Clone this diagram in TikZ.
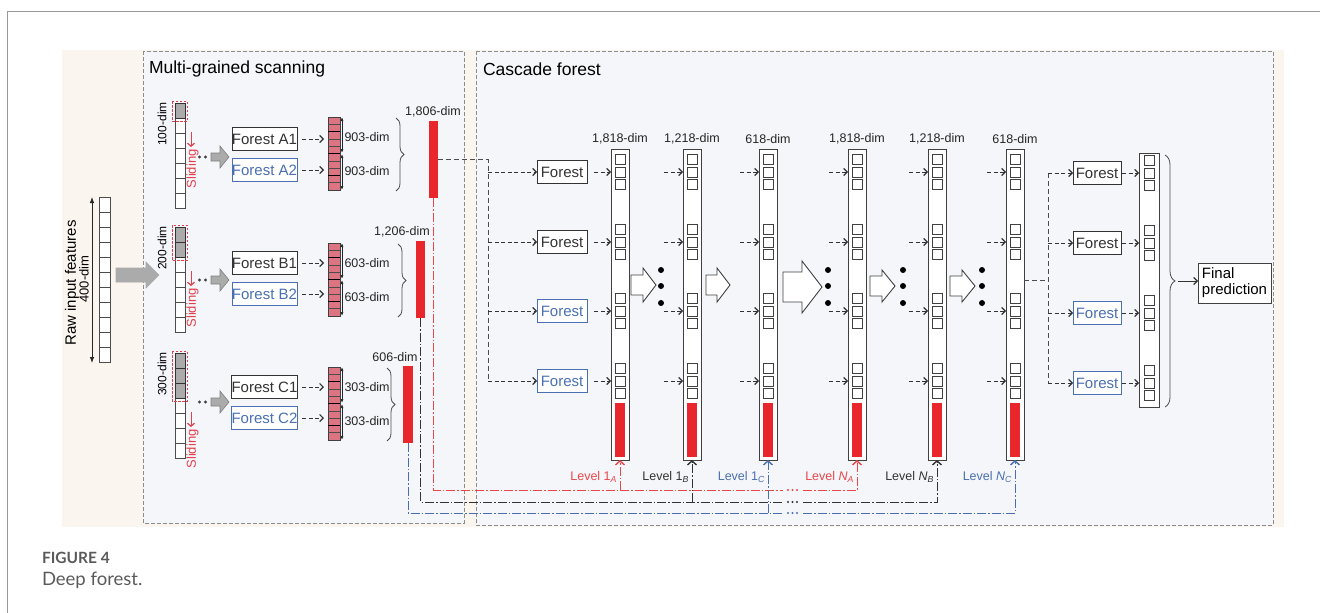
\documentclass[tikz,border=0pt]{standalone}
\usepackage{fontspec}
\setmainfont{Liberation Sans}
\newfontfamily\captionfont{Lato}
\usetikzlibrary{positioning, calc, arrows.meta, decorations.pathreplacing}

\definecolor{barred}{HTML}{E8262B}
\definecolor{cellpink}{HTML}{DC7482}
\definecolor{slidered}{HTML}{E2404C}
\definecolor{forestblue}{HTML}{4A70B2}
\definecolor{blockgray}{HTML}{ABABAB}
\definecolor{panelbg}{HTML}{F4F6F9}
\definecolor{beigebg}{HTML}{FAF5EE}
\definecolor{levelred}{HTML}{E8474C}
\definecolor{levelblue}{HTML}{4A6FB0}
\definecolor{captiongray}{HTML}{5A5A5A}

\tikzset{
  panel/.style={draw=black!45, fill=panelbg, dash pattern=on 4pt off 2pt, line width=0.7pt},
  paneltitle/.style={anchor=west, font=\fontsize{17.5}{18}\selectfont, text=black},
  dimlabel/.style={font=\fontsize{12.5}{13}\selectfont, text=black!85},
  forestbox/.style={draw=#1, text=#1, fill=white, line width=0.9pt, minimum height=23pt, font=\fontsize{15}{15}\selectfont},
  forestbox/.default=black!80,
  rawcell/.style={draw=black!70, fill=white, line width=0.7pt, minimum width=11pt, minimum height=15pt},
  scancell/.style={draw=black!70, fill=white, line width=0.7pt, minimum width=10pt, minimum height=15pt},
  slot/.style={draw=black!75, fill=white, line width=0.7pt, minimum width=10pt, minimum height=10pt},
  vector/.style={draw=black!75, fill=white, line width=0.9pt, minimum width=18pt},
  redbar/.style={fill=barred, minimum width=9.5pt, minimum height=77pt},
  dasharrow/.style={black!80, line width=0.9pt, dash pattern=on 4pt off 2.5pt, -{Straight Barb[length=3.5pt, width=7pt, line width=1.2pt]}},
  dimarrows/.style={black!85, line width=0.7pt, {Latex[length=4pt, width=3pt]}-{Latex[length=4pt, width=3pt]}},
  feedline/.style={black!70, line width=0.8pt, dash pattern=on 5pt off 3pt},
  levelline/.style={#1, line width=0.9pt, dash pattern=on 9pt off 2pt on 1.5pt off 2pt},
  levelarrow/.style={levelline=#1, -{Straight Barb[length=4pt, width=9pt, line width=1.4pt]}},
  levellabel/.style={anchor=east, text=#1, font=\fontsize{12.5}{13}\selectfont},
  hollow/.style={draw=black!75, fill=white, line width=0.9pt, line join=miter},
  grayblock/.style={draw=black!50, fill=blockgray, line width=0.6pt},
  bracestyle/.style={decorate, decoration={brace, amplitude=#1}, black!70, line width=0.8pt},
}

\begin{document}
\begin{tikzpicture}[x=1pt, y=-1pt, every node/.append style={inner sep=0pt, outer sep=0pt}]
\useasboundingbox (0,0) rectangle (1320,613);
% card edges and backgrounds
\draw[black!40, line width=0.8pt] (7,613) -- (7,11) -- (1320,11);
\fill[beigebg] (62,50) rectangle (1284,527);
\draw[panel] (143,51) rectangle (464,523);
\draw[panel] (476,51) rectangle (1273,525);
\node[paneltitle] (mgtitle) at (149,69) {Multi-grained scanning};
\node[paneltitle] (cftitle) at (483,69) {Cascade forest};

% raw input
\foreach \i in {0,...,10}
  \node[rawcell] (raw\i) at (104.5,204.5+15*\i) {};
\draw[black!85, line width=0.8pt, {Latex[length=6pt, width=4.5pt]}-{Latex[length=6pt, width=4.5pt]}] (92,197) -- (92,363);
\node[rotate=90, font=\fontsize{15}{15}\selectfont] (rawname) at (72,283) {Raw input features};
\node[rotate=90, font=\fontsize{13}{13}\selectfont] (rawdim) at (84,279) {400-dim};
\draw[grayblock, draw=blockgray] (116,268) -- (146,268) -- (146,262) -- (159,275) -- (146,288) -- (146,282) -- (116,282) -- cycle;

% scanning rows
\foreach \r/\ct/\ng/\dm/\ay/\fy/\pk/\pd/\bx/\barx/\bt/\bl/\blx in {
    A/103/1/100/157/139/117/903/396/433.5/121/{1,806}/433,
    B/227/2/200/280/263/243/603/398/420.5/241/{1,206}/402,
    C/353/3/300/402/387/367/303/387/408/366/606/395}{
  \foreach \i in {0,...,6}
    \node[scancell] (scan\r\i) at (180,\ct+7.5+15*\i) {};
  \foreach \i in {1,...,\ng}
    \node[scancell, fill=blockgray, draw=black!80] (gray\r\i) at (180,\ct-7.5+15*\i) {};
  \draw[slidered, dash pattern=on 2.5pt off 1.5pt, line width=0.7pt] (172,\ct-2) rectangle (187,\ct+15*\ng+3);
  \node[rotate=90, font=\fontsize{12}{12}\selectfont] (win\r) at (162,\ct+21) {\dm-dim};
  \draw[slidered, line width=1pt, -{Straight Barb[length=3pt, width=7pt, line width=1.2pt]}] (191,\ct+15*\ng+14) -- (191,\ct+15*\ng+29);
  \node[rotate=90, text=slidered, font=\fontsize{13}{13}\selectfont] (slide\r) at (192.5,\ct+15*\ng+51) {Sliding};
  \fill[black!75] (199.5,\ay) circle (1.6pt) (205.5,\ay) circle (1.6pt);
  \draw[grayblock] (211,\ay-4) -- (220,\ay-4) -- (220,\ay-11) -- (229,\ay) -- (220,\ay+11) -- (220,\ay+4) -- (211,\ay+4) -- cycle;
  \node[forestbox, minimum width=65pt] (forest\r1) at (264.5,\fy) {Forest \r1};
  \node[forestbox=forestblue, minimum width=65pt] (forest\r2) at (264.5,\fy+31) {Forest \r2};
  \node[draw=black!75, fill=cellpink, line width=0.7pt, minimum width=12pt, minimum height=73pt] (pink\r) at (334,\pk+36.5) {};
  \foreach \k in {1,...,9}
    \draw[black!70, line width=0.5pt] (328,\pk+7.3*\k) -- (340,\pk+7.3*\k);
  \foreach \k in {2,5,8}
    \draw[black, line width=1.3pt] (328,\pk+7.3*\k) -- (340,\pk+7.3*\k);
  \draw[dasharrow, shorten <=5pt, shorten >=4pt] (forest\r1.east) -- (pink\r.west |- forest\r1.east);
  \draw[dasharrow, shorten <=5pt, shorten >=4pt] (forest\r2.east) -- (pink\r.west |- forest\r2.east);
  \draw[dimarrows] (342,\pk) -- (342,\pk+36);
  \draw[dimarrows] (342,\pk+37) -- (342,\pk+73);
  \node[dimlabel, anchor=west] (dimtop\r) at (344.5,\pk+20) {\pd-dim};
  \node[dimlabel, anchor=west] (dimbot\r) at (344.5,\pk+54) {\pd-dim};
  \draw[bracestyle=8pt] (\bx,\pk+1) -- (\bx,\pk+74);
  \node[redbar] (bar\r) at (\barx,\bt+38.5) {};
  \node[dimlabel] (barlabel\r) at (\blx,\bt-9) {\bl-dim};
}

% cascade levels
\foreach \cn/\cx/\cd in {1/620/{1,818}, 2/692/{1,218}, 3/768/618, 4/857/{1,818}, 5/937/{1,218}, 6/1015/618}{
  \node[vector, minimum height=311pt] (col\cn) at (\cx,304.5) {};
  \node[dimlabel] (coldim\cn) at (\cx,139) {\cd-dim};
  \foreach \g/\gy in {1/172, 2/242, 3/311, 4/381}
    \foreach \s/\sy in {1/-12.5, 2/0, 3/12.5}
      \node[slot] (slot\cn\g\s) at (\cx,\gy+\sy) {};
  \node[fill=barred, minimum width=10pt, minimum height=54pt] (colbar\cn) at (\cx,430) {};
}
\foreach \cn/\cx in {2/692, 3/768, 4/857, 5/937, 6/1015}
  \foreach \g/\gy in {1/172, 2/242, 3/311, 4/381}{
    \coordinate (in\cn\g) at (\cx-28,\gy);
    \draw[dasharrow] (in\cn\g) -- (col\cn.west |- in\cn\g);
  }

% first level forests
\foreach \k/\fy/\fc in {1/172/black!80, 2/242/black!80, 3/311/forestblue, 4/381/forestblue}
  \node[forestbox=\fc, minimum width=50pt] (lforest\k) at (562,\fy) {Forest};
\coordinate (feedsplit) at (488,159.5);
\draw[feedline] (barA.east) -- (feedsplit) -- (feedsplit |- lforest4.west);
\foreach \k in {1,...,4}{
  \draw[dasharrow] (feedsplit |- lforest\k.west) -- (lforest\k.west);
  \draw[dasharrow, shorten <=7pt] (lforest\k.east) -- (col1.west |- lforest\k.east);
}

% hollow arrows and dots between levels
\foreach \ax/\ay/\al/\hl/\sh/\hh in {631/285/25/13/10/17, 706/285/24/13/10/17, 783/287/39/20/15/26, 870/286/25/13/10/16, 950/286/25/13/10/16}
  \draw[hollow] (\ax,\ay-\sh) -- (\ax+\al-\hl,\ay-\sh) -- (\ax+\al-\hl,\ay-\hh) -- (\ax+\al,\ay)
    -- (\ax+\al-\hl,\ay+\hh) -- (\ax+\al-\hl,\ay+\sh) -- (\ax,\ay+\sh) -- cycle;
\foreach \dx in {661, 828, 903, 982}
  \foreach \dy in {270, 286, 303}
    \fill[black] (\dx,\dy) circle (3pt);

% final forests and prediction
\foreach \k/\fy/\fc in {1/173/black!80, 2/243/black!80, 3/313/forestblue, 4/383/forestblue}
  \node[forestbox=\fc, minimum width=48pt] (fforest\k) at (1097,\fy) {Forest};
\node[vector, minimum width=20pt, minimum height=254pt] (fcol) at (1149,280) {};
\foreach \g/\gy in {1/173, 2/243, 3/313, 4/383}
  \foreach \s/\sy in {1/-12.5, 2/0, 3/12.5}
    \node[slot] (fslot\g\s) at (1149,\gy+\sy) {};
\coordinate (finalsplit) at (1048,280);
\draw[feedline] (col6.east |- finalsplit) -- (finalsplit);
\draw[feedline] (finalsplit |- fforest1.west) -- (finalsplit |- fforest4.west);
\foreach \k in {1,...,4}{
  \draw[dasharrow] (finalsplit |- fforest\k.west) -- (fforest\k.west);
  \draw[dasharrow, shorten <=1pt] (fforest\k.east) -- (fcol.west |- fforest\k.east);
}
\draw[bracestyle=10pt] (1165,155) -- (1165,407);
\node[draw=black!75, fill=white, line width=0.9pt, minimum width=73pt, minimum height=40pt, align=left, inner sep=2pt, font=\fontsize{15}{16}\selectfont] (final) at (1234.5,283) {Final\\prediction};
\coordinate (bracetip) at (1178,281);
\draw[black!80, line width=0.9pt, -{Straight Barb[length=3.5pt, width=7pt, line width=1.2pt]}] (bracetip) -- (final.west |- bracetip);

% class vectors fed back to every level
\coordinate (endA) at (783,490);
\coordinate (endB) at (783,502);
\coordinate (endC) at (783,513);
\coordinate (resA) at (803,490);
\coordinate (resB) at (803,502);
\coordinate (resC) at (803,513);
\draw[levelline=levelred] (barA.south) |- (endA);
\draw[levelline=black!80] (barB.south) |- (endB);
\draw[levelline=levelblue] (barC.south) |- (endC);
\draw[levelarrow=levelred] (col1.south |- endA) -- (col1.south);
\draw[levelarrow=black!80] (col2.south |- endB) -- (col2.south);
\draw[levelarrow=levelblue] (col3.south |- endC) -- (col3.south);
\draw[levelarrow=levelred] (resA) -| (col4.south);
\draw[levelarrow=black!80] (resB) -| (col5.south);
\draw[levelarrow=levelblue] (resC) -| (col6.south);
\foreach \dx in {788, 792.5, 797}{
  \fill[levelred] (\dx,490) circle (1.2pt);
  \fill[black!80] (\dx,502) circle (1.2pt);
  \fill[levelblue] (\dx,513) circle (1.2pt);
}
\node[levellabel=levelred] (lvoneA) at ($(col1.south)+(-3,17)$) {Level 1\textsubscript{\textit{A}}};
\node[levellabel=black!80] (lvoneB) at ($(col2.south)+(-3,17)$) {Level 1\textsubscript{\textit{B}}};
\node[levellabel=levelblue] (lvoneC) at ($(col3.south)+(-3,17)$) {Level 1\textsubscript{\textit{C}}};
\node[levellabel=levelred] (lvnA) at ($(col4.south)+(-3,17)$) {Level \textit{N}\textsubscript{\textit{A}}};
\node[levellabel=black!80] (lvnB) at ($(col5.south)+(-3,17)$) {Level \textit{N}\textsubscript{\textit{B}}};
\node[levellabel=levelblue] (lvnC) at ($(col6.south)+(-3,17)$) {Level \textit{N}\textsubscript{\textit{C}}};

% caption
\node[anchor=west, text=captiongray, font=\captionfont\bfseries\fontsize{15.5}{16}\selectfont] (figlabel) at (42,558) {FIGURE 4};
\node[anchor=west, text=captiongray, font=\captionfont\fontsize{18.5}{19}\selectfont] (figcaption) at (42,580) {Deep forest.};
\end{tikzpicture}
\end{document}
